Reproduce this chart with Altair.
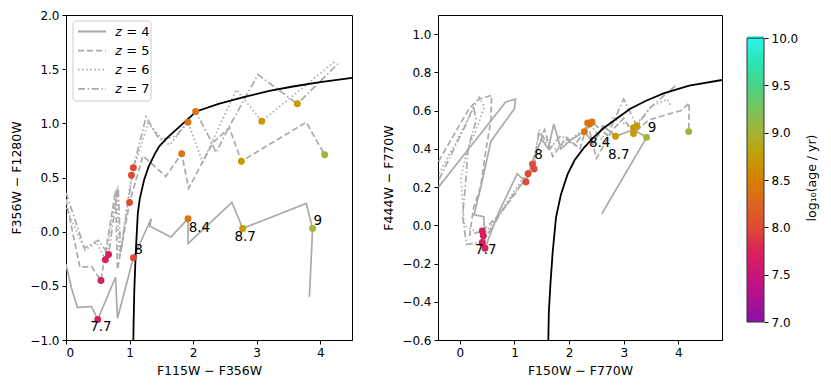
import altair as alt
import pandas as pd

GRAY = "#aaaaaa"
Z_LABELS = ["𝑧 = 4", "𝑧 = 5", "𝑧 = 6", "𝑧 = 7"]
Z_DASHES = [[1, 0], [6, 3], [1.5, 2.6], [7, 2.6, 1.5, 2.6]]

# ---------------- Left panel (F115W-F356W vs F356W-F1280W) ----------------
L4_x = [0.00, 0.09, 0.18, 0.40, 0.50, 0.78, 0.81, 1.06, 1.31, 1.34, 1.32, 1.65, 1.92, 1.92, 2.61, 2.78, 3.78, 3.88, 3.83]
L4_y = [-0.30, -0.53, -0.70, -0.69, -0.81, -0.42, -0.80, -0.24, 0.08, 0.12, 0.05, -0.05, 0.12, -0.11, 0.27, 0.03, 0.26, 0.03, -0.60]
L5_x = [0.00, 0.06, 0.22, 0.40, 0.55, 0.78, 0.81, 1.00, 1.21, 1.57, 1.82, 1.93, 2.31, 2.57, 2.76, 3.78, 4.07]
L5_y = [0.30, 0.12, -0.33, -0.32, -0.45, 0.38, -0.35, 0.27, 0.70, 0.51, 0.72, 0.40, 0.82, 0.96, 0.65, 1.01, 0.71]
L6_x = [0.00, 0.30, 0.48, 0.62, 0.80, 0.84, 1.03, 1.29, 1.52, 1.63, 1.92, 2.15, 2.68, 3.08, 4.25]
L6_y = [0.22, -0.17, -0.10, -0.26, 0.40, -0.25, 0.52, 1.00, 0.85, 0.80, 1.01, 0.64, 1.31, 1.02, 1.58]
L7_x = [0.00, 0.29, 0.51, 0.67, 0.82, 0.86, 1.06, 1.26, 1.47, 1.73, 2.04, 2.28, 2.36, 2.55, 3.02, 3.64, 4.28]
L7_y = [0.36, -0.15, -0.08, -0.21, 0.42, -0.20, 0.59, 1.06, 0.85, 0.88, 1.11, 0.84, 0.73, 0.95, 1.45, 1.18, 1.55]

L_dot_x = [0.50, 1.06, 1.92, 2.78, 3.88, 0.55, 1.00, 1.82, 2.76, 4.07, 0.62, 1.03, 1.92, 3.08, 0.67, 1.06, 2.04, 3.64]
L_dot_y = [-0.81, -0.24, 0.12, 0.03, 0.03, -0.45, 0.27, 0.72, 0.65, 0.71, -0.26, 0.52, 1.01, 1.02, -0.21, 0.59, 1.11, 1.18]
L_dot_age = [7.7, 8.0, 8.4, 8.7, 9.0, 7.7, 8.0, 8.4, 8.7, 9.0, 7.7, 8.0, 8.4, 8.7, 7.7, 8.0, 8.4, 8.7]

L_lab_text = ["7.7", "8", "8.4", "8.7", "9"]
L_lab_x = [0.55, 1.14, 2.10, 2.82, 3.96]
L_lab_y = [-0.88, -0.17, 0.03, -0.05, 0.10]

L_curve_x = [1.06, 1.065, 1.075, 1.09, 1.11, 1.13, 1.16, 1.23, 1.30, 1.40, 1.47, 1.60, 1.73, 1.90, 2.05, 2.40, 2.78, 3.20, 3.57, 4.00, 4.50]
L_curve_y = [-1.00, -0.80, -0.54, -0.30, -0.05, 0.17, 0.30, 0.48, 0.60, 0.72, 0.79, 0.87, 0.94, 1.03, 1.11, 1.18, 1.24, 1.30, 1.34, 1.38, 1.42]

# ---------------- Right panel (F150W-F770W vs F444W-F770W) ----------------
R4_x = [-0.39, 0.84, 1.02, 1.00, 0.57, 0.40, 0.26, 0.44, 0.46, 0.70, 1.05, 1.21, 1.36, 1.50, 1.62, 1.72, 1.85, 2.05, 2.28, 2.45, 2.62, 2.85, 3.18, 3.42, 2.60]
R4_y = [0.20, 0.645, 0.66, 0.61, 0.44, 0.22, 0.055, 0.045, -0.12, 0.06, 0.27, 0.226, 0.36, 0.45, 0.40, 0.53, 0.40, 0.45, 0.49, 0.43, 0.52, 0.466, 0.50, 0.46, 0.06]
R5_x = [-0.39, 0.17, 0.35, 0.58, 0.57, 0.47, 0.38, 0.25, 0.18, 0.41, 0.70, 1.00, 1.25, 1.45, 1.55, 1.70, 1.95, 2.20, 2.34, 2.50, 2.80, 3.00, 3.18, 3.45, 3.80, 4.05, 4.20, 4.19]
R5_y = [0.335, 0.61, 0.66, 0.68, 0.55, 0.38, 0.20, 0.09, -0.05, -0.03, 0.05, 0.16, 0.27, 0.42, 0.50, 0.36, 0.46, 0.40, 0.535, 0.35, 0.50, 0.56, 0.48, 0.55, 0.58, 0.60, 0.64, 0.49]
R6_x = [-0.38, 0.05, 0.35, 0.45, 0.30, 0.14, 0.02, 0.08, 0.43, 0.70, 1.00, 1.33, 1.45, 1.60, 1.75, 2.00, 2.38, 2.60, 2.80, 3.18, 3.50, 3.80, 3.85]
R6_y = [0.27, 0.50, 0.67, 0.62, 0.50, 0.40, 0.25, 0.00, -0.055, 0.05, 0.18, 0.32, 0.48, 0.44, 0.40, 0.44, 0.53, 0.45, 0.56, 0.51, 0.62, 0.66, 0.63]
R7_x = [-0.38, 0.10, 0.25, 0.30, 0.15, 0.10, 0.05, 0.12, 0.41, 0.70, 1.00, 1.36, 1.45, 1.65, 1.85, 2.10, 2.42, 2.70, 3.00, 3.24, 3.50, 3.95]
R7_y = [0.24, 0.52, 0.62, 0.55, 0.40, 0.20, 0.05, -0.10, -0.09, 0.04, 0.17, 0.295, 0.50, 0.40, 0.47, 0.42, 0.54, 0.47, 0.66, 0.52, 0.62, 0.73]

R_dot_x = [0.46, 1.21, 2.28, 2.85, 3.42, 0.41, 1.25, 2.34, 3.18, 4.19, 0.43, 1.33, 2.38, 3.18, 0.41, 1.36, 2.42, 3.24]
R_dot_y = [-0.12, 0.226, 0.49, 0.466, 0.46, -0.03, 0.27, 0.535, 0.48, 0.49, -0.055, 0.32, 0.53, 0.51, -0.09, 0.295, 0.54, 0.52]
R_dot_age = [7.7, 8.0, 8.4, 8.7, 9.0, 7.7, 8.0, 8.4, 8.7, 9.0, 7.7, 8.0, 8.4, 8.7, 7.7, 8.0, 8.4, 8.7]

R_lab_text = ["7.7", "8", "8.4", "8.7", "9"]
R_lab_x = [0.475, 1.44, 2.56, 2.91, 3.52]
R_lab_y = [-0.13, 0.37, 0.43, 0.366, 0.51]

R_curve_x = [1.62, 1.63, 1.66, 1.70, 1.76, 1.85, 1.97, 2.10, 2.27, 2.45, 2.64, 2.88, 3.12, 3.40, 3.73, 4.20, 4.80]
R_curve_y = [-0.60, -0.45, -0.30, -0.14, 0.04, 0.16, 0.265, 0.34, 0.405, 0.46, 0.51, 0.56, 0.61, 0.65, 0.69, 0.73, 0.76]

# colour map (log age)
CMAP_DOMAIN = [7.0, 7.5, 7.75, 8.0, 8.25, 8.5, 8.75, 9.0, 9.25, 9.5, 9.75, 10.0]
CMAP_RANGE = ["#8c10a8", "#cc1478", "#d9235a", "#e04a35", "#de6420", "#d77f02", "#c49f00", "#a6b234",
              "#79c35c", "#46d488", "#2ae4b6", "#2ef5ea"]
CBAR_TICKS = [7.0, 7.5, 8.0, 8.5, 9.0, 9.5, 10.0]

color_scale = alt.Scale(domain=CMAP_DOMAIN, range=CMAP_RANGE, interpolate="rgb")
dash_scale = alt.Scale(domain=Z_LABELS, range=Z_DASHES)

H = 325
ONE = pd.DataFrame({"a": [0]})
FRAME = alt.ViewBackground(stroke="black", strokeWidth=1)
NOFRAME = alt.ViewBackground(strokeWidth=0, strokeOpacity=0)


def tracks(xs, ys):
    rows = []
    for lab, x, y in zip(Z_LABELS, xs, ys):
        for i, (a, b) in enumerate(zip(x, y)):
            rows.append({"x": a, "y": b, "z": lab, "i": i})
    return pd.DataFrame(rows)


def legend_layers():
    box = alt.Chart(ONE).mark_rect(fill="white", stroke="#cccccc", strokeWidth=1, cornerRadius=3).encode(
        x=alt.value(7), x2=alt.value(85), y=alt.value(6), y2=alt.value(86))
    out = [box]
    for k, (lab, dash) in enumerate(zip(Z_LABELS, Z_DASHES)):
        ry = 16.5 + 19.1 * k
        out.append(alt.Chart(ONE).mark_rule(color=GRAY, strokeWidth=1.8, strokeDash=dash).encode(
            x=alt.value(12), x2=alt.value(40), y=alt.value(ry)))
        out.append(alt.Chart(ONE).mark_text(align="left", baseline="middle", fontSize=13, color="black").encode(
            x=alt.value(49), y=alt.value(ry), text=alt.value(lab)))
    return out


def panel(track_df, dots, labels, curve, xdom, ydom, xticks, yticks, xtitle, ytitle, width, show_legend):
    xs = alt.Scale(domain=xdom, nice=False, zero=False)
    ys = alt.Scale(domain=ydom, nice=False, zero=False)
    xax = alt.Axis(values=xticks, format="d", title=xtitle)
    yax = alt.Axis(values=yticks, format=".1f", title=ytitle)
    lines = alt.Chart(track_df).mark_line(color=GRAY, strokeWidth=1.7, clip=True).encode(
        x=alt.X("x:Q", scale=xs, axis=xax),
        y=alt.Y("y:Q", scale=ys, axis=yax),
        strokeDash=alt.StrokeDash("z:N", scale=dash_scale, legend=None),
        detail="z:N",
        order="i:Q",
    )
    cdf = pd.DataFrame({"x": curve[0], "y": curve[1], "i": list(range(len(curve[0])))})
    crv = alt.Chart(cdf).mark_line(color="black", strokeWidth=1.8, clip=True).encode(
        x=alt.X("x:Q", scale=xs), y=alt.Y("y:Q", scale=ys), order="i:Q")
    ddf = pd.DataFrame({"x": dots[0], "y": dots[1], "age": dots[2]})
    pts = alt.Chart(ddf).mark_circle(size=48, opacity=1).encode(
        x=alt.X("x:Q", scale=xs), y=alt.Y("y:Q", scale=ys),
        color=alt.Color("age:Q", scale=color_scale, legend=None))
    ldf = pd.DataFrame({"x": labels[1], "y": labels[2], "t": labels[0]})
    txt = alt.Chart(ldf).mark_text(fontSize=13.5, color="black", align="center", baseline="middle").encode(
        x=alt.X("x:Q", scale=xs), y=alt.Y("y:Q", scale=ys), text="t:N")
    layers = [lines, crv, pts, txt]
    if show_legend:
        layers += legend_layers()
    return alt.layer(*layers).properties(width=width, height=H, view=FRAME)


left = panel(
    tracks([L4_x, L5_x, L6_x, L7_x], [L4_y, L5_y, L6_y, L7_y]),
    (L_dot_x, L_dot_y, L_dot_age), (L_lab_text, L_lab_x, L_lab_y), (L_curve_x, L_curve_y),
    [0, 4.5], [-1.0, 2.0], [0, 1, 2, 3, 4], [-1.0, -0.5, 0.0, 0.5, 1.0, 1.5, 2.0],
    "F115W − F356W", "F356W − F1280W", 286, True)

right = panel(
    tracks([R4_x, R5_x, R6_x, R7_x], [R4_y, R5_y, R6_y, R7_y]),
    (R_dot_x, R_dot_y, R_dot_age), (R_lab_text, R_lab_x, R_lab_y), (R_curve_x, R_curve_y),
    [-0.4, 4.8], [-0.6, 1.1], [0, 1, 2, 3, 4], [-0.6, -0.4, -0.2, 0.0, 0.2, 0.4, 0.6, 0.8, 1.0],
    "F150W − F770W", "F444W − F770W", 284, False)

# colour bar
steps = [7.0 + 0.025 * k for k in range(121)]
cb_df = pd.DataFrame({"v0": steps[:-1], "v1": [s + 0.045 for s in steps[1:]],
                      "m": [(a + b) / 2 for a, b in zip(steps[:-1], steps[1:])]})
cb_df.loc[cb_df.index[-1], "v1"] = 10.0
cb_scale = alt.Scale(domain=[6.81, 10.245], nice=False, zero=False)
cb = alt.Chart(cb_df).mark_rect(strokeWidth=0).encode(
    y=alt.Y("v0:Q", scale=cb_scale, axis=alt.Axis(
        orient="right", values=CBAR_TICKS, format=".1f", domain=False,
        title="log₁₀(age / yr)", titleAngle=270, titleBaseline="top", titlePadding=8)),
    y2="v1:Q",
    color=alt.Color("m:Q", scale=color_scale, legend=None),
)
cb_frame = alt.Chart(pd.DataFrame({"a": [7.0], "b": [10.0]})).mark_rect(
    fillOpacity=0, stroke="#333333", strokeWidth=1).encode(
    y=alt.Y("a:Q", scale=cb_scale), y2="b:Q")
colorbar = alt.layer(cb, cb_frame).properties(width=17, height=H, view=NOFRAME)

chart = alt.hconcat(
    left, alt.hconcat(right, colorbar, spacing=23), spacing=29
).resolve_scale(color="shared").properties(
    padding={"left": 2, "top": 0, "right": 2, "bottom": 2}
).configure(font="DejaVu Sans").configure_view(
    strokeWidth=0
).configure_axis(
    labelFontSize=12, titleFontSize=12.5, titleFontWeight="normal", labelColor="black",
    titleColor="black", tickColor="black", domainColor="black", tickSize=4, grid=False,
    labelPadding=3, titlePadding=6,
)

chart.save("out.html", embed_options={"renderer": "svg", "actions": False})
